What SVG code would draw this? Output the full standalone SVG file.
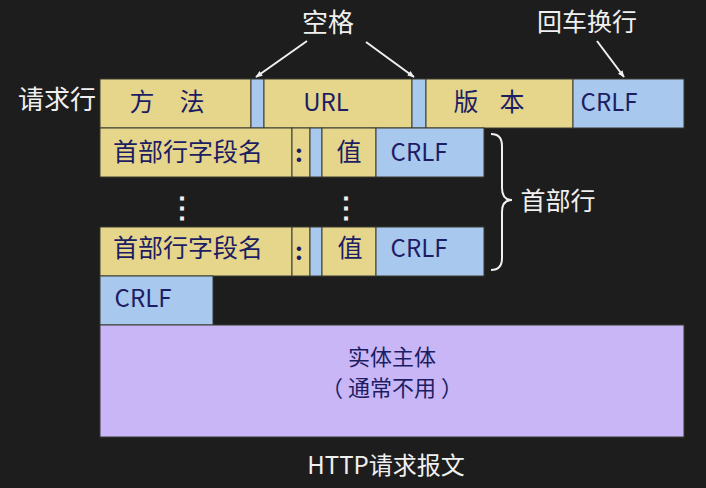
<svg xmlns="http://www.w3.org/2000/svg" width="706" height="488" viewBox="0 0 706 488">
<defs>
<style>
.y{fill:#e6d68c;stroke:#3a3a30;stroke-width:1}
.b{fill:#a9c8ee;stroke:#3a3a30;stroke-width:1}
.p{fill:#c9b6f6;stroke:#3a3a30;stroke-width:1}
.t{font-family:"Noto Sans CJK SC","Liberation Sans",sans-serif;font-size:24px;fill:#1d1d63;text-anchor:middle;dominant-baseline:central}
.c{font-size:25px}
.w{font-family:"Noto Sans CJK SC","Liberation Sans",sans-serif;font-size:25px;fill:#f0f0f0;text-anchor:middle;dominant-baseline:central}
.a{stroke:#f0f0f0;stroke-width:2;fill:none;marker-end:url(#ah)}
</style>
<marker id="ah" viewBox="0 0 10 10" refX="9" refY="5" markerWidth="7" markerHeight="7" orient="auto" markerUnits="userSpaceOnUse">
<path d="M0,1 L10,5 L0,9 Z" fill="#f0f0f0"/>
</marker>
</defs>
<rect width="706" height="488" fill="#1d1d1d"/>

<g id="request-line">
<text class="w" x="57" y="97" style="font-size:26px">请求行</text>
<rect class="y" x="100" y="79" width="151" height="49"/>
<text class="t c" x="142" y="100">方</text>
<text class="t c" x="192" y="100">法</text>
<rect class="b" x="251" y="79" width="13" height="49"/>
<rect class="y" x="264" y="79" width="148" height="49"/>
<text class="t" x="326" y="100">URL</text>
<rect class="b" x="412" y="79" width="14" height="49"/>
<rect class="y" x="426" y="79" width="147" height="49"/>
<text class="t c" x="466" y="100">版</text>
<text class="t c" x="512" y="100">本</text>
<rect class="b" x="573" y="79" width="111" height="49"/>
<text class="t" x="609" y="100">CRLF</text>
</g>

<g id="header-line-1">
<rect class="y" x="100" y="128" width="192" height="49"/>
<text class="t c" x="188" y="150">首部行字段名</text>
<rect class="y" x="292" y="128" width="18" height="49"/>
<text class="t" x="299" y="151" style="font-weight:bold">:</text>
<rect class="b" x="310" y="128" width="12" height="49"/>
<rect class="y" x="322" y="128" width="54" height="49"/>
<text class="t c" x="349" y="150">值</text>
<rect class="b" x="376" y="128" width="108" height="49"/>
<text class="t" x="419" y="150">CRLF</text>
</g>

<g id="ellipsis">
<text class="w" x="182" y="205" style="font-size:28px;font-weight:bold">⋮</text>
<text class="w" x="346" y="205" style="font-size:28px;font-weight:bold">⋮</text>
</g>

<g id="header-line-n">
<rect class="y" x="100" y="227" width="192" height="49"/>
<text class="t c" x="188" y="246">首部行字段名</text>
<rect class="y" x="292" y="227" width="18" height="49"/>
<text class="t" x="299" y="249" style="font-weight:bold">:</text>
<rect class="b" x="310" y="227" width="12" height="49"/>
<rect class="y" x="322" y="227" width="54" height="49"/>
<text class="t c" x="350" y="246">值</text>
<rect class="b" x="376" y="227" width="108" height="49"/>
<text class="t" x="419" y="246">CRLF</text>
</g>

<g id="blank-line">
<rect class="b" x="100" y="276" width="113" height="49"/>
<text class="t" x="143" y="296">CRLF</text>
</g>

<g id="entity-body">
<rect class="p" x="100" y="325" width="584" height="112"/>
<text class="t" x="392" y="355" style="font-size:22px">实体主体</text>
<text class="t" x="392" y="386" style="font-size:22px">（ 通常不用 ）</text>
</g>

<g id="header-brace">
<path d="M491,134 Q502,134 502,146 L502,188 Q502,200 512,200 Q502,200 502,212 L502,258 Q502,270 491,270" fill="none" stroke="#f0f0f0" stroke-width="2"/>
<text class="w" x="558" y="199">首部行</text>
</g>

<g id="labels">
<text class="w" x="328" y="20" style="font-size:26px">空格</text>
<text class="w" x="587" y="20">回车换行</text>
<text class="w" x="386" y="463" style="font-size:24px">HTTP请求报文</text>
</g>

<g id="connectors">
<line class="a" x1="307" y1="41" x2="256" y2="77"/>
<line class="a" x1="366" y1="42" x2="414" y2="77"/>
<line class="a" x1="597" y1="41" x2="624" y2="77"/>
</g>
</svg>
